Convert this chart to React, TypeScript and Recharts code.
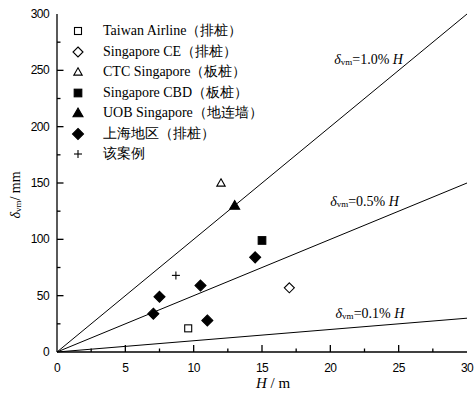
import React from "react";
import { ComposedChart, Scatter, Line, XAxis, YAxis, Legend, ReferenceDot } from "recharts";

type Pt = { x: number; y: number };
type Kind = "square" | "diamond" | "triangle" | "plus";

// measured points, H (m) vs δvm (mm)
const taiwanAirline: Pt[] = [{ x: 9.6, y: 21 }];
const singaporeCE: Pt[] = [{ x: 17, y: 57 }];
const ctcSingapore: Pt[] = [{ x: 12, y: 150 }];
const singaporeCBD: Pt[] = [{ x: 15, y: 99 }];
const uobSingapore: Pt[] = [{ x: 13, y: 130 }];
const shanghai: Pt[] = [
  { x: 7.05, y: 34 },
  { x: 7.5, y: 49 },
  { x: 10.5, y: 59 },
  { x: 11, y: 28 },
  { x: 14.5, y: 84 },
];
const thisCase: Pt[] = [{ x: 8.7, y: 68 }];

// δvm = k% · H reference lines
const ratios = [1.0, 0.5, 0.1];
const hEnds = [0, 30];
const ratioLabelAt: Pt[] = [
  { x: 22.8, y: 260 },
  { x: 22.5, y: 134 },
  { x: 22.9, y: 35 },
];

const xTicks = [0, 2.5, 5, 7.5, 10, 12.5, 15, 17.5, 20, 22.5, 25, 27.5, 30];
const yTicks = [0, 25, 50, 75, 100, 125, 150, 175, 200, 225, 250, 275, 300];

const series: { name: string; data: Pt[]; kind: Kind; filled: boolean }[] = [
  { name: "Taiwan  Airline（排桩）", data: taiwanAirline, kind: "square", filled: false },
  { name: "Singapore CE（排桩）", data: singaporeCE, kind: "diamond", filled: false },
  { name: "CTC Singapore（板桩）", data: ctcSingapore, kind: "triangle", filled: false },
  { name: "Singapore  CBD（板桩）", data: singaporeCBD, kind: "square", filled: true },
  { name: "UOB Singapore（地连墙）", data: uobSingapore, kind: "triangle", filled: true },
  { name: "上海地区（排桩）", data: shanghai, kind: "diamond", filled: true },
  { name: "该案例", data: thisCase, kind: "plus", filled: false },
];

const SERIF = "'Liberation Serif', 'Times New Roman', serif";
const SANS = "'Liberation Sans', Arial, sans-serif";

function Mark({ kind, filled, cx, cy }: { kind: Kind; filled: boolean; cx: number; cy: number }) {
  const fill = filled ? "#000" : "#fff";
  if (kind === "square") {
    const s = filled ? 3.8 : 3.5;
    return <rect x={cx - s} y={cy - s} width={2 * s} height={2 * s} fill={fill} stroke="#000" strokeWidth={1.1} />;
  }
  if (kind === "diamond") {
    const s = filled ? 5.5 : 5;
    return (
      <polygon
        points={`${cx},${cy - s} ${cx + s},${cy} ${cx},${cy + s} ${cx - s},${cy}`}
        fill={fill}
        stroke="#000"
        strokeWidth={1.1}
      />
    );
  }
  if (kind === "triangle") {
    const s = filled ? 5 : 4.2;
    return (
      <polygon
        points={`${cx},${cy - s} ${cx + s},${cy + s * 0.75} ${cx - s},${cy + s * 0.75}`}
        fill={fill}
        stroke="#000"
        strokeWidth={1.1}
      />
    );
  }
  return (
    <g stroke="#000" strokeWidth={1.1}>
      <line x1={cx - 4} y1={cy} x2={cx + 4} y2={cy} />
      <line x1={cx} y1={cy - 4} x2={cx} y2={cy + 4} />
    </g>
  );
}

// labels only at the major ticks
function XTick({ x, y, payload }: any) {
  const v = payload.value;
  if (v % 5 !== 0) return null;
  return (
    <text x={x} y={y + 10} textAnchor="middle" fontFamily={SANS} fontSize={12} fill="#000" letterSpacing={-0.6}>
      {v}
    </text>
  );
}

function YTick({ x, y, payload }: any) {
  const v = payload.value;
  if (v % 50 !== 0) return null;
  return (
    <text x={x} y={y + 4} textAnchor="end" fontFamily={SANS} fontSize={12} fill="#000" letterSpacing={-0.6}>
      {v}
    </text>
  );
}

// inward tick marks, placed on the axes through the chart scales
const xTickMarks = xTicks.filter((v) => v > 0 && v < 30).map((v) => ({ x: v, y: 0 }));
const yTickMarks = yTicks.filter((v) => v > 0 && v < 300).map((v) => ({ x: 0, y: v }));

function XMark({ cx, cy, payload }: any) {
  const len = payload && payload.x % 5 === 0 ? 7 : 3.5;
  return <path d={`M${cx},${cy}L${cx},${cy - len}`} stroke="#000" strokeWidth={1.3} fill="none" />;
}

function YMark({ cx, cy, payload }: any) {
  const len = payload && payload.y % 50 === 0 ? 6.5 : 3.5;
  return <path d={`M${cx},${cy}L${cx + len},${cy}`} stroke="#000" strokeWidth={1.3} fill="none" />;
}

function RatioLabel({ viewBox, k }: any) {
  const { x, y } = viewBox;
  return (
    <text x={x} y={y} textAnchor="middle" dominantBaseline="central" fontFamily={SERIF} fontSize={14} fill="#000">
      <tspan fontStyle="italic">δ</tspan>
      <tspan fontSize={9} dy={3}>vm</tspan>
      <tspan dy={-3}>={k.toFixed(1)}%</tspan>
      <tspan fontStyle="italic"> H</tspan>
    </text>
  );
}

function YLabel({ viewBox }: any) {
  const cx = 15;
  const cy = viewBox.y + viewBox.height / 2 + 12;
  return (
    <text
      x={cx}
      y={cy}
      transform={`rotate(-90 ${cx} ${cy})`}
      textAnchor="middle"
      dominantBaseline="central"
      fontFamily={SERIF}
      fontSize={14}
      fill="#000"
    >
      <tspan fontStyle="italic">δ</tspan>
      <tspan fontSize={9} dy={3}>vm</tspan>
      <tspan dy={-3}>/ mm</tspan>
    </text>
  );
}

function XLabel({ viewBox }: any) {
  const cx = viewBox.x + viewBox.width / 2 + 11;
  return (
    <text x={cx} y={388} textAnchor="middle" fontFamily={SERIF} fontSize={15} fill="#000">
      <tspan fontStyle="italic">H</tspan>
      <tspan> / m</tspan>
    </text>
  );
}

function LegendBox() {
  return (
    <div style={{ fontFamily: SERIF, fontSize: 14, color: "#000" }}>
      {series.map((s) => (
        <div key={s.name} style={{ display: "flex", alignItems: "center", height: 20.5, whiteSpace: "nowrap" }}>
          <svg width={16} height={16} style={{ marginRight: 17 }}>
            <Mark kind={s.kind} filled={s.filled} cx={8} cy={8} />
          </svg>
          <span>{s.name}</span>
        </div>
      ))}
    </div>
  );
}

const frame = { stroke: "#000", strokeWidth: 1.3 };

export default function App() {
  return (
    <div style={{ position: "absolute", left: 0, top: 0, background: "#fff" }}>
      <ComposedChart width={475} height={394} margin={{ top: 14, right: 8, bottom: 0, left: 0 }}>
        <XAxis
          type="number"
          dataKey="x"
          domain={[0, 30]}
          ticks={xTicks}
          interval={0}
          tickSize={0}
          tickMargin={10}
          tick={<XTick />}
          tickLine={false}
          axisLine={frame}
          height={42}
          label={{ content: XLabel }}
        />
        <XAxis xAxisId="top" orientation="top" type="number" domain={[0, 30]} tick={false} tickLine={false} axisLine={frame} height={0} />
        <YAxis
          type="number"
          dataKey="y"
          domain={[0, 300]}
          ticks={yTicks}
          interval={0}
          tickSize={0}
          tickMargin={8}
          tick={<YTick />}
          tickLine={false}
          axisLine={frame}
          width={57}
          label={{ content: YLabel }}
        />
        <YAxis yAxisId="right" orientation="right" type="number" domain={[0, 300]} tick={false} tickLine={false} axisLine={frame} width={0} />

        {ratios.map((k) => (
          <Line
            key={k}
            data={hEnds.map((h) => ({ x: h, y: (k / 100) * h * 1000 }))}
            dataKey="y"
            stroke="#000"
            strokeWidth={1}
            dot={false}
            legendType="none"
            isAnimationActive={false}
          />
        ))}
        {ratios.map((k, i) => (
          <ReferenceDot
            key={`l${k}`}
            x={ratioLabelAt[i].x}
            y={ratioLabelAt[i].y}
            r={0}
            fill="none"
            stroke="none"
            label={(p: any) => <RatioLabel {...p} k={k} />}
          />
        ))}

        <Scatter name="xticks" data={xTickMarks} dataKey="y" legendType="none" isAnimationActive={false} shape={(p: any) => <XMark {...p} />} />
        <Scatter name="yticks" data={yTickMarks} dataKey="y" legendType="none" isAnimationActive={false} shape={(p: any) => <YMark {...p} />} />

        {series.map((s) => (
          <Scatter
            key={s.name}
            name={s.name}
            data={s.data}
            dataKey="y"
            isAnimationActive={false}
            shape={(p: any) => <Mark kind={s.kind} filled={s.filled} cx={p.cx} cy={p.cy} />}
          />
        ))}
        <Legend
          layout="vertical"
          align="center"
          verticalAlign="middle"
          wrapperStyle={{ left: 70, top: 21, width: 260 }}
          content={() => <LegendBox />}
        />
      </ComposedChart>
    </div>
  );
}
